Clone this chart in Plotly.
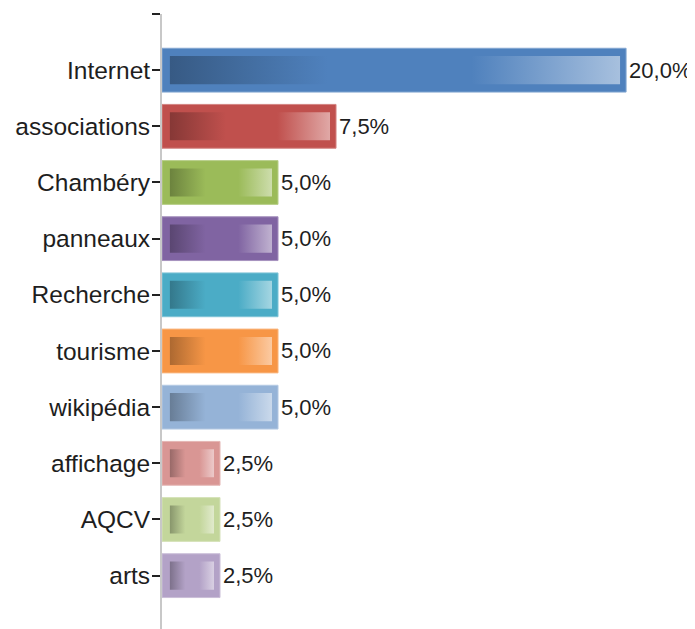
import plotly.graph_objects as go

# data
categories = ['Internet', 'associations', 'Chambéry', 'panneaux', 'Recherche',
              'tourisme', 'wikipédia', 'affichage', 'AQCV', 'arts']
values = [20.0, 7.5, 5.0, 5.0, 5.0, 5.0, 5.0, 2.5, 2.5, 2.5]
colors = ['#4F81BD', '#C0504D', '#9BBB59', '#8064A2', '#4BACC6',
          '#F79646', '#95B3D7', '#D99694', '#C3D69B', '#B3A2C7']

BAR_W = 0.78      # bar thickness in category units
INSET_Y = 0.14    # inner gradient inset (category units)
INSET_L = 0.34    # inner gradient inset left (% units)
INSET_R = 0.26    # inner gradient inset right (% units)


def mix(hex_col, other, t):
    c = [int(hex_col[i:i + 2], 16) for i in (1, 3, 5)]
    return 'rgb(%d,%d,%d)' % tuple(round(a + (b - a) * t) for a, b in zip(c, other))


pos = list(range(len(categories)))

fig = go.Figure()

# solid outer bar (acts as the border)
fig.add_trace(go.Bar(
    x=values, y=pos, orientation='h', width=BAR_W,
    marker=dict(color=colors,
                line=dict(width=1, color=[mix(c, (255, 255, 255), 0.3) for c in colors])),
    texttemplate='%{x:.1f}%', textposition='outside', cliponaxis=False,
    textfont=dict(family='Liberation Sans, Arial, sans-serif', size=22, color='#1e1e1e'),
    hoverinfo='skip', showlegend=False,
))

# inner gradient panels
for p, v, c in zip(pos, values, colors):
    h = BAR_W / 2 - INSET_Y
    x0, x1 = INSET_L, v - INSET_R
    fig.add_trace(go.Scatter(
        x=[x0, x1, x1, x0, x0], y=[p - h, p - h, p + h, p + h, p - h],
        mode='lines', line=dict(width=0), fill='toself',
        fillgradient=dict(type='horizontal', colorscale=[
            [0.0, mix(c, (0, 0, 0), 0.3)],
            [0.35, c],
            [0.67, c],
            [1.0, mix(c, (255, 255, 255), 0.5)],
        ]),
        hoverinfo='skip', showlegend=False,
    ))

# the page body adds an 8px margin, so the figure is shrunk by that much
fig.update_layout(
    width=687, height=621,
    margin=dict(l=154, r=0, t=6, b=0),
    paper_bgcolor='white', plot_bgcolor='white',
    separators=', ',
    font=dict(family='Liberation Sans, Arial, sans-serif', color='#1e1e1e'),
    xaxis=dict(visible=False, range=[0, 22.97], fixedrange=True, automargin=False),
    yaxis=dict(
        range=[9.95, -1], automargin=False,
        tickvals=[-1] + pos, ticktext=[''] + categories,
        showline=True, linecolor='#c8c8c8', linewidth=2,
        ticks='outside', ticklen=8, tickwidth=2, tickcolor='#222222',
        ticklabelstandoff=-3,
        showgrid=False, zeroline=False,
        tickfont=dict(size=24.5, color='#1e1e1e'),
    ),
)

fig.write_html('out.html')
